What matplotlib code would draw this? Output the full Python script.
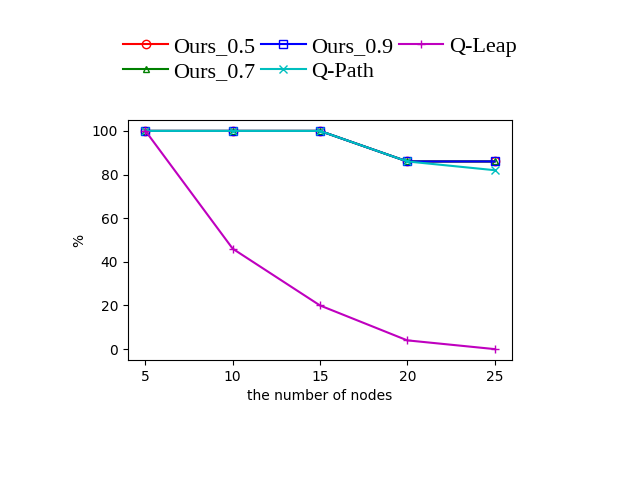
import matplotlib
matplotlib.use("Agg")
import matplotlib.pyplot as plt

nodes = [5, 10, 15, 20, 25]
ours_05 = [100, 100, 100, 86, 86]
ours_07 = [100, 100, 100, 86, 86]
ours_09 = [100, 100, 100, 86, 86]
q_path = [100, 100, 100, 86, 82]
q_leap = [100, 46, 20, 4, 0]

fig = plt.figure(figsize=(6.4, 4.8), dpi=100)
ax = fig.add_axes([0.2, 0.25, 0.6, 0.5])
ax.plot(nodes, ours_05, color='r', marker='o', mfc='none', label='Ours_0.5')
ax.plot(nodes, ours_07, color='g', marker='^', mfc='none', markersize=4, label='Ours_0.7')
ax.plot(nodes, ours_09, color='b', marker='s', mfc='none', label='Ours_0.9')
ax.plot(nodes, q_path, color='c', marker='x', label='Q-Path')
ax.plot(nodes, q_leap, color='m', marker='+', label='Q-Leap')
ax.set_xlabel('the number of nodes')
ax.set_ylabel('%')
ax.set_xticks(nodes)
ax.legend(loc='lower center', bbox_to_anchor=(0.5, 1.095), ncol=3, frameon=False,
          prop={'family': 'Liberation Serif', 'size': 16},
          handlelength=2.0, columnspacing=0.25, handletextpad=0.25,
          labelspacing=0.2, borderpad=0.2)
fig.savefig('out.png')
